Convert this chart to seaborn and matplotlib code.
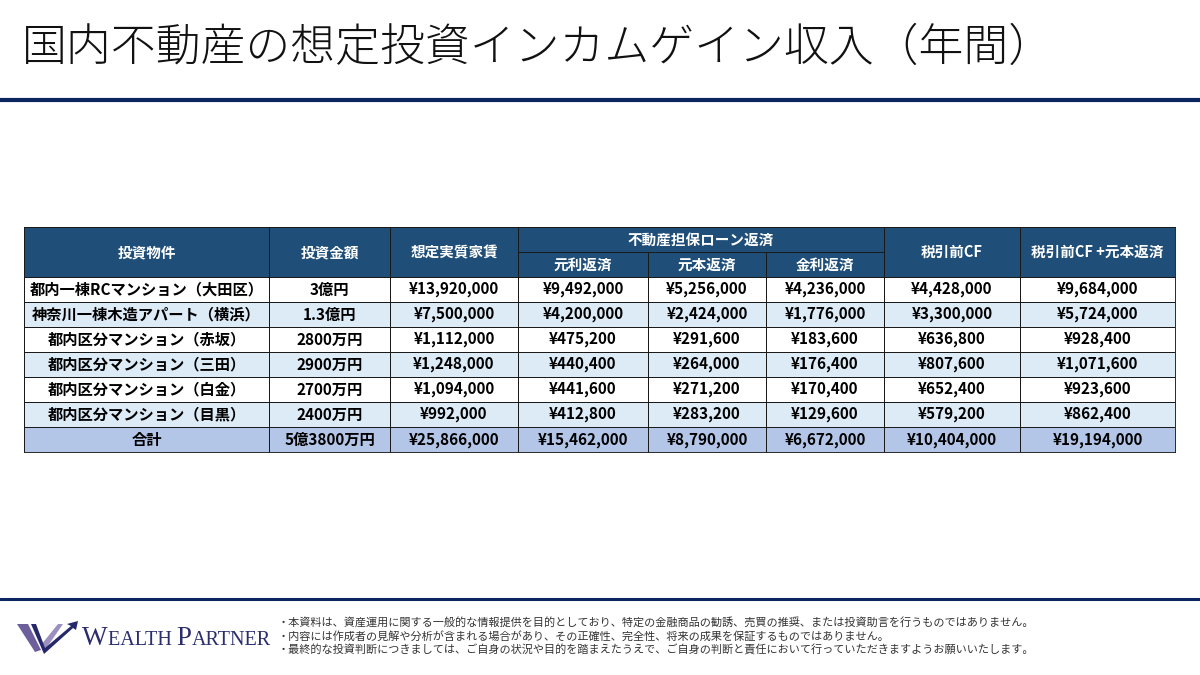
import numpy as np
import pandas as pd
import seaborn as sns
import matplotlib
matplotlib.use("Agg")
import matplotlib.pyplot as plt
from matplotlib.colors import ListedColormap
from matplotlib.lines import Line2D
from matplotlib.patches import Polygon

# ---------------- data ----------------
title = "国内不動産の想定投資インカムゲイン収入（年間）"
properties = ["都内一棟RCマンション（大田区）", "神奈川一棟木造アパート（横浜）",
              "都内区分マンション（赤坂）", "都内区分マンション（三田）",
              "都内区分マンション（白金）", "都内区分マンション（目黒）", "合計"]
invest_amount = ["3億円", "1.3億円", "2800万円", "2900万円", "2700万円", "2400万円", "5億3800万円"]
rent = [13920000, 7500000, 1112000, 1248000, 1094000, 992000, 25866000]
loan_total = [9492000, 4200000, 475200, 440400, 441600, 412800, 15462000]
principal = [5256000, 2424000, 291600, 264000, 271200, 283200, 8790000]
interest = [4236000, 1776000, 183600, 176400, 170400, 129600, 6672000]
cf_pretax = [4428000, 3300000, 636800, 807600, 652400, 579200, 10404000]
cf_plus_principal = [9684000, 5724000, 928400, 1071600, 923600, 862400, 19194000]
row_kind = [0, 1, 0, 1, 0, 1, 2]   # 0 white, 1 light band, 2 total

header_main = ["投資物件", "投資金額", "想定実質家賃", "不動産担保ローン返済", "税引前CF", "税引前CF +元本返済"]
header_sub = ["元利返済", "元本返済", "金利返済"]
disclaimer = [
    "・本資料は、資産運用に関する一般的な情報提供を目的としており、特定の金融商品の勧誘、売買の推奨、または投資助言を行うものではありません。",
    "・内容には作成者の見解や分析が含まれる場合があり、その正確性、完全性、将来の成果を保証するものではありません。",
    "・最終的な投資判断につきましては、ご自身の状況や目的を踏まえたうえで、ご自身の判断と責任において行っていただきますようお願いいたします。",
]

# ---------------- style ----------------
sns.set_theme(style="white")
FONT = ["Noto Sans CJK JP", "DejaVu Sans"]
plt.rcParams["font.family"] = FONT

W, H = 1200, 675
fig = plt.figure(figsize=(12, 6.75), dpi=100)
fig.patch.set_facecolor("white")

NAVY = "#0b2560"
HEAD = "#1f4e79"
LIGHT = "#ddebf7"
TOTAL = "#b4c6e7"
EDGE = "#1a1a1a"
LW = 0.65
palette = ["#ffffff", LIGHT, TOTAL, HEAD]


def rect(x0, y0, x1, y1):
    return [x0 / W, 1 - y1 / H, (x1 - x0) / W, (y1 - y0) / H]


def yen(v):
    return "¥{:,}".format(v)


def cell_block(x0, y0, x1, y1, codes, labels, text_color, fs=11):
    ax = fig.add_axes(rect(x0, y0, x1, y1))
    sns.heatmap(np.array(codes), ax=ax, cmap=ListedColormap(palette),
                vmin=-0.5, vmax=len(palette) - 0.5, cbar=False,
                annot=np.array(labels, dtype=object), fmt="",
                annot_kws=dict(color=text_color, fontsize=fs, fontweight="bold",
                               family=FONT),
                linewidths=LW, linecolor=EDGE,
                xticklabels=False, yticklabels=False)
    for s in ax.spines.values():
        s.set_visible(True)
        s.set_color(EDGE)
        s.set_linewidth(LW)
    return ax


# ---------------- table geometry (pixels) ----------------
col_edges = [24, 269, 390, 518, 648, 766, 884, 1020, 1175]
head_top, head_mid, head_bot = 227, 252, 277
body_bot = 452

# header cells
hdr = [(0, 1, head_top, head_bot, header_main[0]),
       (1, 2, head_top, head_bot, header_main[1]),
       (2, 3, head_top, head_bot, header_main[2]),
       (3, 6, head_top, head_mid, header_main[3]),
       (3, 4, head_mid, head_bot, header_sub[0]),
       (4, 5, head_mid, head_bot, header_sub[1]),
       (5, 6, head_mid, head_bot, header_sub[2]),
       (6, 7, head_top, head_bot, header_main[4]),
       (7, 8, head_top, head_bot, header_main[5])]
for c0, c1, ya, yb, lab in hdr:
    cell_block(col_edges[c0], ya, col_edges[c1], yb, [[3]], [[lab]], "white", fs=10.5)

# body columns
columns = [properties, invest_amount,
           [yen(v) for v in rent], [yen(v) for v in loan_total],
           [yen(v) for v in principal], [yen(v) for v in interest],
           [yen(v) for v in cf_pretax], [yen(v) for v in cf_plus_principal]]
codes = [[k] for k in row_kind]
for j, col in enumerate(columns):
    cell_block(col_edges[j], head_bot, col_edges[j + 1], body_bot,
               codes, [[t] for t in col], "black", fs=11)

# ---------------- title & rules ----------------
fig.text(22 / W, 1 - 48 / H, title, fontsize=32.3, fontweight="light",
         color="#111111", va="center", ha="left", family=FONT)
fig.add_artist(Line2D([0, 1], [1 - 99.5 / H] * 2, color=NAVY, lw=3.0,
                      transform=fig.transFigure))
fig.add_artist(Line2D([0, 1], [1 - 598.5 / H] * 2, color=NAVY, lw=2.2,
                      transform=fig.transFigure))

# ---------------- footer logo ----------------
def poly(pts, color):
    fig.add_artist(Polygon([(x / W, 1 - y / H) for x, y in pts], closed=True,
                           transform=fig.transFigure, facecolor=color,
                           edgecolor="none"))

PURPLE = "#6d5f9c"
LPURPLE = "#9b90bf"
poly([(17, 624), (28, 624), (41, 650), (35, 652)], PURPLE)
poly([(41, 645), (58, 624), (63, 624), (45, 650)], LPURPLE)
poly([(31, 624), (36, 624), (45, 648), (71, 626), (67, 624), (78, 621),
      (76, 630), (73, 628), (44, 654)], "#25286a")

LOGO = "#2b2d6e"
y_base = 1 - 645 / H
t1 = fig.text(82 / W, y_base, "W", fontsize=19.5, color=LOGO,
              family="Liberation Serif", va="baseline", ha="left")
t2 = fig.add_artist(plt.Annotation("EALTH ", xy=(1, y_base), xycoords=(t1, "figure fraction"),
                                   fontsize=14.5, color=LOGO, family="Liberation Serif",
                                   va="baseline", ha="left"))
t3 = fig.add_artist(plt.Annotation("P", xy=(1, y_base), xycoords=(t2, "figure fraction"),
                                   fontsize=19.5, color=LOGO, family="Liberation Serif",
                                   va="baseline", ha="left"))
t4 = fig.add_artist(plt.Annotation("ARTNER", xy=(1, y_base), xycoords=(t3, "figure fraction"),
                                   fontsize=14.5, color=LOGO, family="Liberation Serif",
                                   va="baseline", ha="left"))

for i, line in enumerate(disclaimer):
    fig.text(278 / W, 1 - (622 + 14 * i) / H, line, fontsize=8.0, color="#333333",
             va="center", ha="left", family=FONT)

fig.savefig("out.png", dpi=100, facecolor="white")
